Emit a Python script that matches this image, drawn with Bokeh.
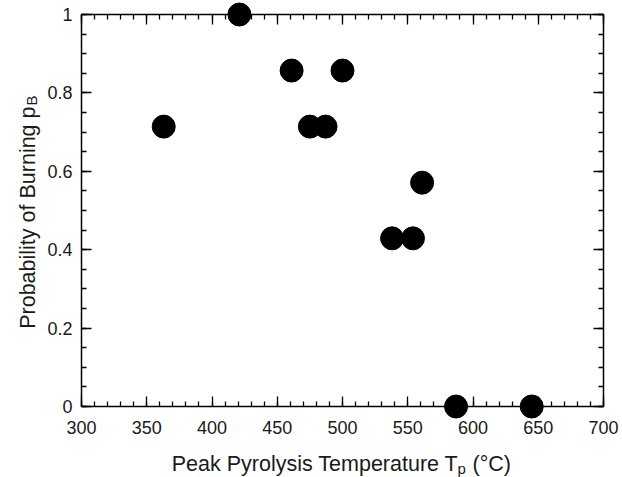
import math
from bokeh.plotting import figure
from bokeh.models import LinearAxis, Range1d, Label, FixedTicker
from bokeh.embed import file_html
from bokeh.resources import INLINE

# ---- data ----
temperature = [363, 421, 461, 475, 487, 500, 538, 554, 561, 587, 645]
probability = [0.714, 1.0, 0.857, 0.714, 0.714, 0.857, 0.429, 0.429, 0.571, 0.0, 0.0]

x_ticks = [300, 350, 400, 450, 500, 550, 600, 650, 700]
y_ticks = [0, 0.2, 0.4, 0.6, 0.8, 1.0]
y_tick_labels = ["0", "0.2", "0.4", "0.6", "0.8", "1"]
x_minor = [300 + 10 * i for i in range(41)]
y_minor = [round(0.05 * i, 2) for i in range(21)]

X0, X1 = 300, 700
Y0, Y1 = 0, 1

# ---- layout geometry (pixels) ----
W, H = 622, 477
box_l, box_r, box_t, box_b = 81, 603, 14, 406
xs = (box_r - box_l) / (X1 - X0)
ys = (box_b - box_t) / (Y1 - Y0)

FONT = "Liberation Sans"
TICK_FS = "18px"
LAB_FS = "21.5px"
SUB_FS = "15px"
TXT = "#1a1a1a"
MAJ, MIN = 10, 5

# the frame covers the whole canvas; the box is drawn by axes at fixed data locations
p = figure(width=W, height=H, output_backend="svg", toolbar_location=None,
           x_range=Range1d(X0 - box_l / xs, X1 + (W - box_r) / xs),
           y_range=Range1d(Y0 - (H - box_b) / ys, Y1 + box_t / ys),
           x_axis_type=None, y_axis_type=None,
           min_border=0, min_border_left=0, min_border_right=0,
           min_border_top=0, min_border_bottom=0)
p.outline_line_color = None
p.grid.visible = False
p.background_fill_color = "white"
p.border_fill_color = "white"


def deco_axis(loc, bounds, ticks, length, line):
    """Box side drawn at a fixed data location, ticks only (no labels)."""
    ax = LinearAxis(ticker=FixedTicker(ticks=[], minor_ticks=ticks),
                    fixed_location=loc, bounds=bounds, axis_label=None)
    ax.axis_line_color = "black" if line else None
    ax.axis_line_width = 1.5
    ax.minor_tick_line_color = "black"
    ax.minor_tick_line_width = 1.3
    ax.minor_tick_in = length
    ax.minor_tick_out = 0
    ax.major_tick_line_color = None
    return ax


def label_axis(loc, bounds, ticks, minor, standoff):
    ax = LinearAxis(ticker=FixedTicker(ticks=ticks, minor_ticks=minor),
                    fixed_location=loc, bounds=bounds, axis_label=None)
    ax.axis_line_color = "black"
    ax.axis_line_width = 1.5
    ax.major_tick_line_color = "black"
    ax.minor_tick_line_color = "black"
    ax.major_tick_line_width = 1.3
    ax.minor_tick_line_width = 1.3
    ax.major_tick_in = MAJ
    ax.major_tick_out = 0
    ax.minor_tick_in = MIN
    ax.minor_tick_out = 0
    ax.major_label_text_font = FONT
    ax.major_label_text_font_size = TICK_FS
    ax.major_label_text_color = TXT
    ax.major_label_standoff = standoff
    return ax


xax = label_axis(Y0, (X0, X1), x_ticks, x_minor, 14)
p.add_layout(xax, "below")

yax = label_axis(X0, (Y0, Y1), y_ticks, y_minor, 9)
yax.major_label_overrides = {v: s for v, s in zip(y_ticks, y_tick_labels)}
p.add_layout(yax, "left")

p.add_layout(deco_axis(Y1, (X0, X1), x_minor, MIN, True), "above")
p.add_layout(deco_axis(Y1, (X0, X1), x_ticks, MAJ, False), "above")
p.add_layout(deco_axis(X1, (Y0, Y1), y_minor, MIN, True), "right")
p.add_layout(deco_axis(X1, (Y0, Y1), y_ticks, MAJ, False), "right")

p.scatter(temperature, probability, size=23, marker="circle",
          fill_color="black", line_color="black")


# ---- axis titles with subscripts (screen units, frame = canvas) ----
def fx(x):
    return x


def fy(y):
    return H - y


t_end = 458
base = 463
p.add_layout(Label(x=fx(t_end), y=fy(base), x_units="screen", y_units="screen",
                   text="Peak Pyrolysis Temperature T", text_align="right",
                   text_baseline="alphabetic", text_font=FONT,
                   text_font_size=LAB_FS, text_color=TXT))
p.add_layout(Label(x=fx(t_end - 1), y=fy(base + 5), x_units="screen", y_units="screen",
                   text="p", text_align="left", text_baseline="alphabetic",
                   text_font=FONT, text_font_size=SUB_FS, text_color=TXT))
p.add_layout(Label(x=fx(t_end + 14), y=fy(base), x_units="screen", y_units="screen",
                   text="(°C)", text_align="left", text_baseline="alphabetic",
                   text_font=FONT, text_font_size=LAB_FS, text_color=TXT))

y_end = 106
ybase = 27
p.add_layout(Label(x=fx(ybase), y=fy(y_end), x_units="screen", y_units="screen",
                   text="Probability of Burning p", text_align="right",
                   text_baseline="alphabetic", angle=math.pi / 2,
                   text_font=FONT, text_font_size=LAB_FS, text_color=TXT))
p.add_layout(Label(x=fx(ybase + 4), y=fy(y_end - 1), x_units="screen", y_units="screen",
                   text="B", text_align="left", text_baseline="alphabetic",
                   angle=math.pi / 2, text_font=FONT, text_font_size=SUB_FS,
                   text_color=TXT))

open("out.html", "w").write(file_html(p, INLINE))
